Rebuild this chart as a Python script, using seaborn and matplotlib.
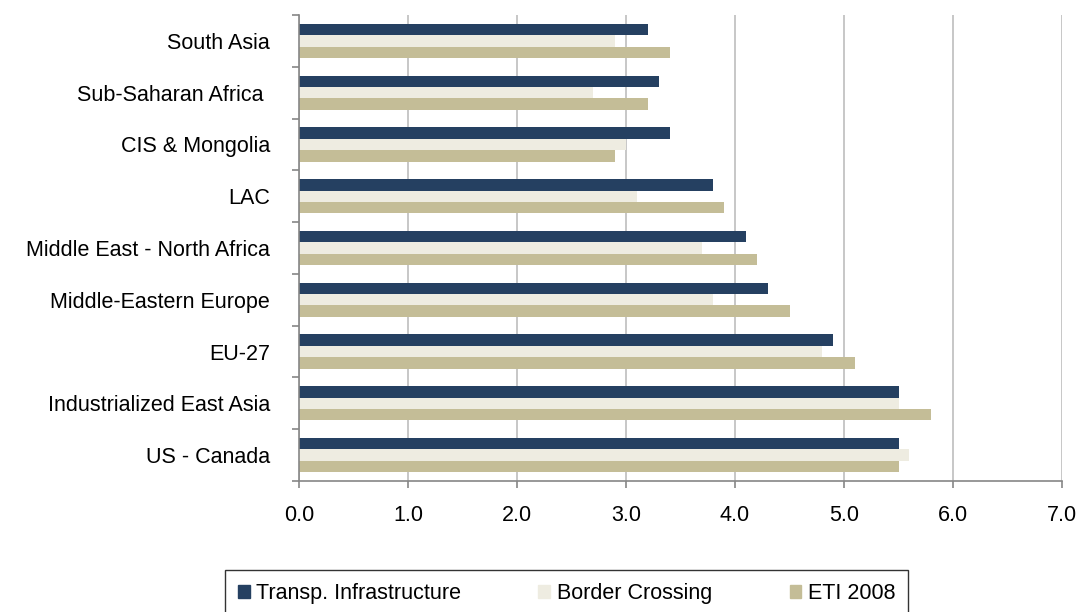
import matplotlib
matplotlib.use("Agg")
import matplotlib.pyplot as plt
import seaborn as sns
import pandas as pd

regions = ["South Asia", "Sub-Saharan Africa ", "CIS & Mongolia", "LAC",
           "Middle East - North Africa", "Middle-Eastern Europe", "EU-27",
           "Industrialized East Asia", "US - Canada"]
transp = [3.2, 3.3, 3.4, 3.8, 4.1, 4.3, 4.9, 5.5, 5.5]
border = [2.9, 2.7, 3.0, 3.1, 3.7, 3.8, 4.8, 5.5, 5.6]
eti = [3.4, 3.2, 2.9, 3.9, 4.2, 4.5, 5.1, 5.8, 5.5]
series = ["Transp. Infrastructure", "Border Crossing", "ETI 2008"]
colors = ["#254061", "#EEECE1", "#C4BD97"]

df = pd.DataFrame({
    "region": regions * 3,
    "value": transp + border + eti,
    "series": [series[0]] * 9 + [series[1]] * 9 + [series[2]] * 9,
})

sns.set_style("white")
plt.rcParams["font.family"] = ["Liberation Sans", "DejaVu Sans"]
plt.rcParams["text.color"] = "black"
plt.rcParams["xtick.labelcolor"] = "black"
plt.rcParams["ytick.labelcolor"] = "black"

fig = plt.figure(figsize=(10.78, 6.12), dpi=100)
ax = fig.add_axes([0.2774, 0.214, 0.7078, 0.7615])

sns.barplot(data=df, y="region", x="value", hue="series", order=regions,
            hue_order=series, palette=colors, width=0.66, orient="h",
            linewidth=0, saturation=1, ax=ax)

ax.set_xlim(0, 7)
ax.set_ylim(8.5, -0.5)
ax.set_xticks(range(8))
ax.set_xticklabels([f"{v:.1f}" for v in range(8)])
ax.set_xlabel("")
ax.set_ylabel("")

ax.xaxis.grid(True, color="#BEBEBE", linewidth=1.2)
ax.set_axisbelow(True)
for s in ["top", "right"]:
    ax.spines[s].set_visible(False)
for s in ["left", "bottom"]:
    ax.spines[s].set_color("#868686")
    ax.spines[s].set_linewidth(1.2)

ax.tick_params(axis="x", length=5, width=1.2, color="#868686", pad=12,
               labelsize=15.5, bottom=True, labelcolor="black")
ax.tick_params(axis="y", which="major", length=0, pad=21, labelsize=15.5,
               labelcolor="black")
ax.set_yticks([i - 0.5 for i in range(10)], minor=True)
ax.tick_params(axis="y", which="minor", length=5, width=1.2, color="#868686",
               left=True)

ax.legend_.remove()
handles = [plt.Rectangle((0, 0), 1, 1, color=c) for c in colors]
leg = fig.legend(handles, series, loc="upper center", ncol=3,
                 bbox_to_anchor=(0.5255, 0.0686), fontsize=15.5,
                 frameon=True, fancybox=False, edgecolor="black",
                 handlelength=0.55, handleheight=0.55, handletextpad=0.3,
                 columnspacing=3.6, borderpad=0.6, borderaxespad=0)
leg.get_frame().set_linewidth(1.0)

fig.savefig("out.png", dpi=100)
